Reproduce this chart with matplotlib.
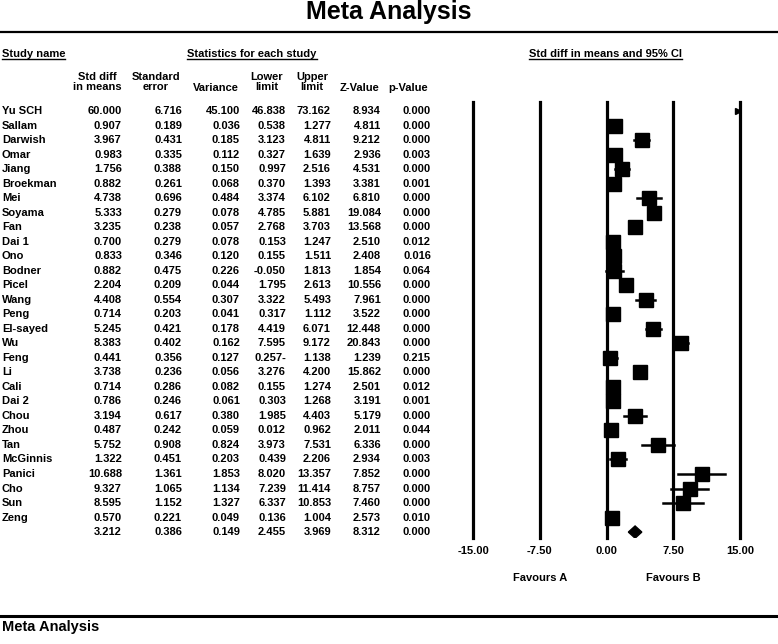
import numpy as np
import matplotlib
matplotlib.use("Agg")
import matplotlib.pyplot as plt

plt.rcParams['font.family'] = ['Liberation Sans', 'DejaVu Sans']
plt.rcParams['font.weight'] = 'bold'

# study data
names = ["Yu SCH", "Sallam", "Darwish", "Omar", "Jiang", "Broekman", "Mei", "Soyama",
         "Fan", "Dai 1", "Ono", "Bodner", "Picel", "Wang", "Peng", "El-sayed", "Wu",
         "Feng", "Li", "Cali", "Dai 2", "Chou", "Zhou", "Tan", "McGinnis", "Panici",
         "Cho", "Sun", "Zeng", ""]
std_diff = [60.000, 0.907, 3.967, 0.983, 1.756, 0.882, 4.738, 5.333, 3.235, 0.700,
            0.833, 0.882, 2.204, 4.408, 0.714, 5.245, 8.383, 0.441, 3.738, 0.714,
            0.786, 3.194, 0.487, 5.752, 1.322, 10.688, 9.327, 8.595, 0.570, 3.212]
std_err = [6.716, 0.189, 0.431, 0.335, 0.388, 0.261, 0.696, 0.279, 0.238, 0.279,
           0.346, 0.475, 0.209, 0.554, 0.203, 0.421, 0.402, 0.356, 0.236, 0.286,
           0.246, 0.617, 0.242, 0.908, 0.451, 1.361, 1.065, 1.152, 0.221, 0.386]
variance = [45.100, 0.036, 0.185, 0.112, 0.150, 0.068, 0.484, 0.078, 0.057, 0.078,
            0.120, 0.226, 0.044, 0.307, 0.041, 0.178, 0.162, 0.127, 0.056, 0.082,
            0.061, 0.380, 0.059, 0.824, 0.203, 1.853, 1.134, 1.327, 0.049, 0.149]
lower = [46.838, 0.538, 3.123, 0.327, 0.997, 0.370, 3.374, 4.785, 2.768, 0.153,
         0.155, -0.050, 1.795, 3.322, 0.317, 4.419, 7.595, -0.257, 3.276, 0.155,
         0.303, 1.985, 0.012, 3.973, 0.439, 8.020, 7.239, 6.337, 0.136, 2.455]
upper = [73.162, 1.277, 4.811, 1.639, 2.516, 1.393, 6.102, 5.881, 3.703, 1.247,
         1.511, 1.813, 2.613, 5.493, 1.112, 6.071, 9.172, 1.138, 4.200, 1.274,
         1.268, 4.403, 0.962, 7.531, 2.206, 13.357, 11.414, 10.853, 1.004, 3.969]
z_value = [8.934, 4.811, 9.212, 2.936, 4.531, 3.381, 6.810, 19.084, 13.568, 2.510,
           2.408, 1.854, 10.556, 7.961, 3.522, 12.448, 20.843, 1.239, 15.862, 2.501,
           3.191, 5.179, 2.011, 6.336, 2.934, 7.852, 8.757, 7.460, 2.573, 8.312]
p_value = [0.000, 0.000, 0.000, 0.003, 0.000, 0.001, 0.000, 0.000, 0.000, 0.012,
           0.016, 0.064, 0.000, 0.000, 0.000, 0.000, 0.000, 0.215, 0.000, 0.012,
           0.001, 0.000, 0.044, 0.000, 0.003, 0.000, 0.000, 0.000, 0.010, 0.000]
# printed as in the source table
lower_text_override = {"Feng": "0.257-"}

x_ticks = [-15.0, -7.5, 0.0, 7.5, 15.0]
x_tick_labels = ["-15.00", "-7.50", "0.00", "7.50", "15.00"]

W, H = 778, 644
fig = plt.figure(figsize=(W / 100, H / 100), dpi=100)

# page axes in pixel units for the table text
ax = fig.add_axes([0, 0, 1, 1])
ax.set_xlim(0, W)
ax.set_ylim(H, 0)
ax.axis("off")

row0, dy = 111, 14.52
n = len(names)

ax.text(389, 12, "Meta Analysis", fontsize=18, ha="center", va="center")
ax.plot([0, W], [32, 32], color="black", lw=1.6)


def underlined(x, y, s, ha):
    t = ax.text(x, y, s, fontsize=8, ha=ha, va="center")
    fig.canvas.draw()
    bb = t.get_window_extent().transformed(ax.transData.inverted())
    ax.plot([bb.x0, bb.x1], [y + 5, y + 5], color="black", lw=1.0)


underlined(2, 54, "Study name", "left")
underlined(252, 54, "Statistics for each study", "center")
underlined(606, 54, "Std diff in means and 95% CI", "center")

headers = [(97, "Std diff\nin means"), (156, "Standard\nerror"), (216, "Variance"),
           (267, "Lower\nlimit"), (312, "Upper\nlimit"), (360, "Z-Value"),
           (408, "p-Value")]
for hx, s in headers:
    if "\n" in s:
        ax.text(hx, 82, s, fontsize=8, ha="center", va="center", linespacing=1.0)
    else:
        ax.text(hx, 88, s, fontsize=8, ha="center", va="center")

col_right = [122, 182, 240, 286, 331, 381, 431]
cols = [std_diff, std_err, variance, lower, upper, z_value, p_value]
for i in range(n):
    y = row0 + i * dy
    ax.text(2, y, names[i], fontsize=8, ha="left", va="center")
    for k, (xr, col) in enumerate(zip(col_right, cols)):
        s = "%.3f" % col[i]
        if k == 3 and names[i] in lower_text_override:
            s = lower_text_override[names[i]]
        ax.text(xr, y, s, fontsize=8, ha="right", va="center")

ax.text(540, 578, "Favours A", fontsize=8, ha="center", va="center")
ax.text(673, 578, "Favours B", fontsize=8, ha="center", va="center")

ax.plot([0, W], [616, 616], color="black", lw=2.2)
ax.text(2, 627, "Meta Analysis", fontsize=10.5, ha="left", va="center")

# forest plot axes
fx0, fx1 = 473, 740
fy0, fy1 = 102, 538
axf = fig.add_axes([fx0 / W, 1 - fy1 / H, (fx1 - fx0) / W, (fy1 - fy0) / H])
axf.set_xlim(-15, 15)
axf.set_ylim((fy1 - row0) / dy, (fy0 - row0) / dy)
axf.patch.set_visible(False)
for sp in axf.spines.values():
    sp.set_visible(False)
axf.set_yticks([])
axf.set_xticks(x_ticks)
axf.set_xticklabels(x_tick_labels, fontsize=8, fontweight="bold")
axf.tick_params(axis="x", length=0, pad=6)

for xt in x_ticks:
    axf.axvline(xt, color="black", lw=2.3, clip_on=False)

for i in range(n - 1):
    est, lo, hi = std_diff[i], lower[i], upper[i]
    if est > 15:
        axf.plot(14.8, i, marker=">", ms=4, color="black", clip_on=False)
        continue
    axf.plot([max(lo, -15), min(hi, 15)], [i, i], color="black", lw=1.8)
    axf.plot(est, i, marker="s", ms=9.5, color="black")

# pooled estimate
i = n - 1
axf.fill([lower[i], std_diff[i], upper[i], std_diff[i]],
         [i, i - 0.42, i, i + 0.42], color="black")

fig.savefig("out.png", dpi=100)
